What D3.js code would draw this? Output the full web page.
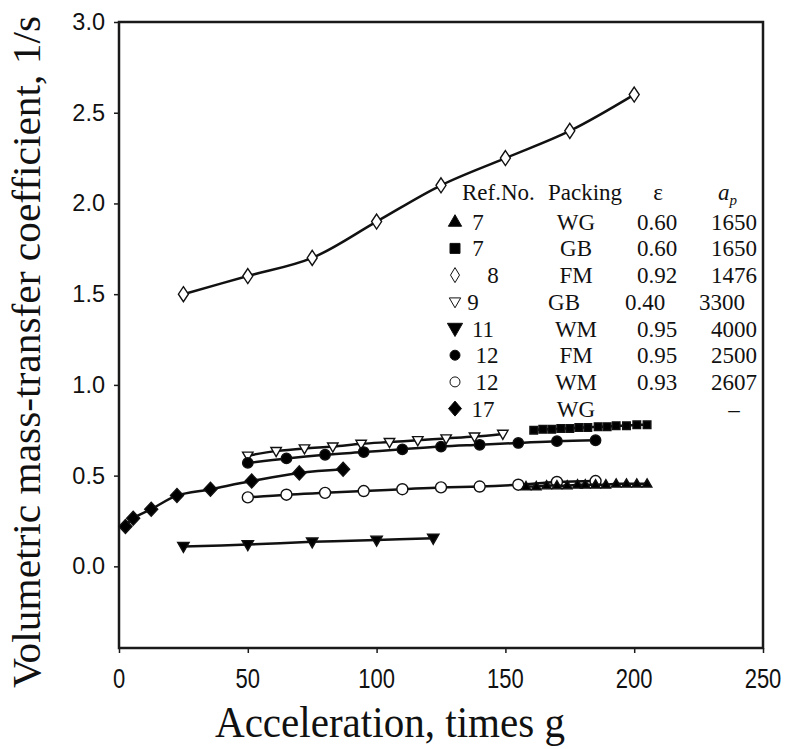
<!DOCTYPE html>
<html>
<head>
<meta charset="utf-8">
<script src="https://cdn.jsdelivr.net/npm/d3@7"></script>
<style>
  body { margin: 0; background: #fff; }
  svg { display: block; }
</style>
</head>
<body>
<svg></svg>
<script>
// values
var wg7X = [158, 162, 166, 170, 174, 178, 181, 185, 189, 193, 197, 201, 205];
var wg7Y = [0.44, 0.44, 0.445, 0.445, 0.445, 0.45, 0.45, 0.45, 0.45, 0.455, 0.455, 0.455, 0.455];
var gb7X = [161, 164.5, 168, 171.5, 175, 178.5, 182, 186, 189.5, 193, 197, 201, 205];
var gb7Y = [0.75, 0.755, 0.755, 0.76, 0.76, 0.765, 0.765, 0.77, 0.77, 0.775, 0.775, 0.78, 0.78];
var fm8X = [25, 50, 75, 100, 125, 150, 175, 200];
var fm8Y = [1.5, 1.6, 1.7, 1.9, 2.1, 2.25, 2.4, 2.6];
var gb9X = [50, 61, 72, 83, 94, 105, 116, 127, 138, 149];
var gb9Y = [0.61, 0.635, 0.65, 0.66, 0.675, 0.685, 0.695, 0.705, 0.715, 0.73];
var wm11X = [25, 50, 75, 100, 122];
var wm11Y = [0.11, 0.12, 0.135, 0.145, 0.155];
var fm12X = [50, 65, 80, 95, 110, 125, 140, 155, 170, 185];
var fm12Y = [0.57, 0.595, 0.615, 0.63, 0.645, 0.66, 0.67, 0.68, 0.69, 0.695];
var wm12X = [50, 65, 80, 95, 110, 125, 140, 155, 170, 185];
var wm12Y = [0.38, 0.395, 0.405, 0.415, 0.425, 0.435, 0.44, 0.45, 0.465, 0.47];
var wg17X = [2.5, 5.5, 12.5, 22.5, 35.5, 51.5, 70, 87];
var wg17Y = [0.22, 0.265, 0.315, 0.39, 0.425, 0.47, 0.515, 0.535];

var xTicks = [0, 50, 100, 150, 200, 250];
var yTicks = [0, 0.5, 1.0, 1.5, 2.0, 2.5, 3.0];

var legendRef = ['7', '7', '8', '9', '11', '12', '12', '17'];
var legendPacking = ['WG', 'GB', 'FM', 'GB', 'WM', 'FM', 'WM', 'WG'];
var legendEps = ['0.60', '0.60', '0.92', '0.40', '0.95', '0.95', '0.93', ''];
var legendAp = ['1650', '1650', '1476', '3300', '4000', '2500', '2607', '\u2013'];

var width = 787,
    height = 749;

var x = d3.scaleLinear().domain([0, 250]).range([119, 763]);
var y = d3.scaleLinear().domain([-0.45, 3.0]).range([648, 22]);

var svg = d3.select('svg')
    .attr('width', width)
    .attr('height', height);

// marker shapes
function diamond(hw, hh) { return 'M0,' + (-hh) + 'L' + hw + ',0L0,' + hh + 'L' + (-hw) + ',0Z'; }
function triUp(s) { return 'M0,' + (-s) + 'L' + (s * 0.95) + ',' + (s * 0.65) + 'L' + (-s * 0.95) + ',' + (s * 0.65) + 'Z'; }
function triDown(s) { return 'M0,' + s + 'L' + (s * 0.95) + ',' + (-s * 0.65) + 'L' + (-s * 0.95) + ',' + (-s * 0.65) + 'Z'; }
function square(s) { return 'M' + (-s) + ',' + (-s) + 'h' + (2 * s) + 'v' + (2 * s) + 'h' + (-2 * s) + 'Z'; }
function circle(r) { return 'M' + r + ',0A' + r + ',' + r + ' 0 1,1 ' + (-r) + ',0A' + r + ',' + r + ' 0 1,1 ' + r + ',0Z'; }

var series = [
    { xs: fm8X, ys: fm8Y, shape: diamond(5, 7.5), fill: '#fff' },
    { xs: gb9X, ys: gb9Y, shape: triDown(5.5), fill: '#fff' },
    { xs: wm11X, ys: wm11Y, shape: triDown(6), fill: '#000' },
    { xs: fm12X, ys: fm12Y, shape: circle(5.2), fill: '#000' },
    { xs: wm12X, ys: wm12Y, shape: circle(5.5), fill: '#fff' },
    { xs: wg17X, ys: wg17Y, shape: diamond(6.5, 7), fill: '#000' },
    { xs: gb7X, ys: gb7Y, shape: square(3.8), fill: '#000' },
    { xs: wg7X, ys: wg7Y, shape: triUp(5), fill: '#000' }
];

var line = d3.line()
    .x(function (d) { return x(d[0]); })
    .y(function (d) { return y(d[1]); })
    .curve(d3.curveCatmullRom.alpha(0.5));

// frame
svg.append('rect')
    .attr('x', x(0)).attr('y', y(3.0))
    .attr('width', x(250) - x(0)).attr('height', y(-0.45) - y(3.0))
    .attr('fill', 'none').attr('stroke', '#1a1a1a').attr('stroke-width', 2.5);

// y axis
var yAxis = svg.append('g')
    .attr('transform', 'translate(' + x(0) + ',0)')
    .call(d3.axisLeft(y).tickValues(yTicks).tickSize(5).tickPadding(9).tickFormat(d3.format('.1f')));
yAxis.select('.domain').remove();
yAxis.selectAll('line').attr('stroke', '#1a1a1a').attr('stroke-width', 1.5);
yAxis.selectAll('text')
    .style('font-family', '"Liberation Sans", Arial, sans-serif')
    .style('font-size', '23.5px')
    .attr('fill', '#111');

// x axis
var xAxis = svg.append('g')
    .attr('transform', 'translate(0,' + y(-0.45) + ')')
    .call(d3.axisBottom(x).tickValues(xTicks).tickSize(5).tickFormat(''));
xAxis.select('.domain').remove();
xAxis.selectAll('line').attr('stroke', '#1a1a1a').attr('stroke-width', 1.5);

svg.selectAll('.xlabel')
    .data(xTicks)
    .enter().append('text')
    .attr('class', 'xlabel')
    .attr('transform', function (d) { return 'translate(' + x(d) + ',688) scale(0.88,1.1)'; })
    .attr('text-anchor', 'middle')
    .style('font-family', '"Liberation Sans", Arial, sans-serif')
    .style('font-size', '25px')
    .attr('fill', '#111')
    .text(function (d) { return d; });

// titles
svg.append('text')
    .attr('x', 390).attr('y', 737)
    .attr('text-anchor', 'middle')
    .style('font-family', '"Liberation Serif", "Times New Roman", serif')
    .style('font-size', '44px')
    .attr('textLength', 350)
    .attr('lengthAdjust', 'spacingAndGlyphs')
    .attr('fill', '#111')
    .text('Acceleration, times g');

svg.append('text')
    .attr('transform', 'translate(40,352) rotate(-90)')
    .attr('text-anchor', 'middle')
    .style('font-family', '"Liberation Serif", "Times New Roman", serif')
    .style('font-size', '41px')
    .attr('textLength', 672)
    .attr('lengthAdjust', 'spacingAndGlyphs')
    .attr('fill', '#111')
    .text('Volumetric mass-transfer coefficient, 1/s');

// lines and markers
series.forEach(function (s) {
    var pts = s.xs.map(function (v, i) { return [v, s.ys[i]]; });
    svg.append('path')
        .datum(pts)
        .attr('d', line)
        .attr('fill', 'none')
        .attr('stroke', '#111')
        .attr('stroke-width', 2.5);
    svg.append('g').selectAll('path')
        .data(pts)
        .enter().append('path')
        .attr('transform', function (d) { return 'translate(' + x(d[0]) + ',' + y(d[1]) + ')'; })
        .attr('d', s.shape)
        .attr('fill', s.fill)
        .attr('stroke', '#111')
        .attr('stroke-width', 1.4);
});

// legend table
var legendShapes = [triUp(7), square(5), diamond(4.5, 7.5), triDown(6), triDown(8), circle(5), circle(5), diamond(6.5, 7.5)];
var legendFills = ['#000', '#000', '#fff', '#fff', '#000', '#000', '#fff', '#000'];
var rowShift = [0, 0, 0, -12, 0, 0, 0, 0];
var refShift = [-5, -5, 10, -10, 0, 4, 4, 0];

var leg = svg.append('g')
    .style('font-family', '"Liberation Serif", "Times New Roman", serif')
    .style('font-size', '23px')
    .attr('fill', '#111');

leg.append('text').attr('x', 462).attr('y', 200).text('Ref.No.');
leg.append('text').attr('x', 548).attr('y', 200).text('Packing');
leg.append('text').attr('x', 658).attr('y', 200).attr('text-anchor', 'middle').text('\u03b5');
var ap = leg.append('text').attr('x', 718).attr('y', 200);
ap.append('tspan').style('font-style', 'italic').text('a');
ap.append('tspan').attr('dy', 5).style('font-size', '15px').style('font-style', 'italic').text('p');

legendRef.forEach(function (r, i) {
    var cy = 221.7 + i * 26.7;
    leg.append('path')
        .attr('transform', 'translate(455,' + cy + ')')
        .attr('d', legendShapes[i])
        .attr('fill', legendFills[i])
        .attr('stroke', '#111')
        .attr('stroke-width', 1);
    leg.append('text').attr('x', 483 + refShift[i]).attr('y', cy + 8).attr('text-anchor', 'middle').text(r);
    leg.append('text').attr('x', 576 + rowShift[i]).attr('y', cy + 8).attr('text-anchor', 'middle').text(legendPacking[i]);
    leg.append('text').attr('x', 657 + rowShift[i]).attr('y', cy + 8).attr('text-anchor', 'middle').text(legendEps[i]);
    leg.append('text').attr('x', 734 + rowShift[i]).attr('y', cy + 8).attr('text-anchor', 'middle').text(legendAp[i]);
});
</script>
</body>
</html>
